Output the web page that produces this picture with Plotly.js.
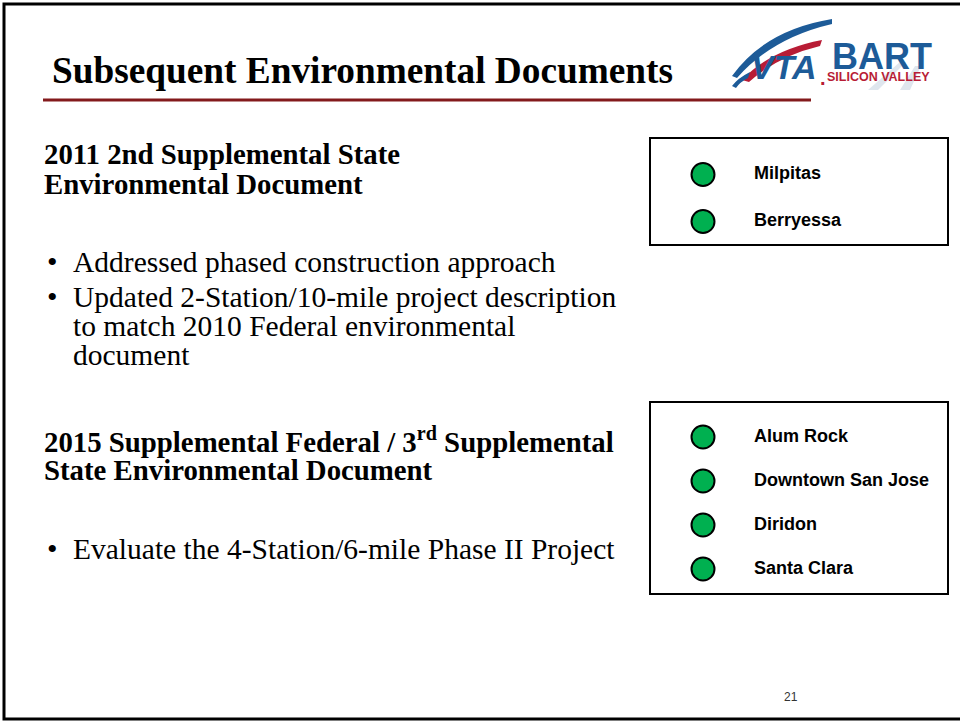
<!DOCTYPE html>
<html>
<head>
<meta charset="utf-8">
<script src="https://cdn.plot.ly/plotly-3.0.1.min.js"></script>
<style>
  html, body { margin: 0; padding: 0; background: #fff; }
  #slide { width: 960px; height: 721px; }
</style>
</head>
<body>
<div id="slide"></div>
<script>
const titleText = "Subsequent Environmental Documents";
const heading1 = ["2011 2nd Supplemental State", "Environmental Document"];
const bullets1 = [
  ["Addressed phased construction approach"],
  ["Updated 2-Station/10-mile project description", "to match 2010 Federal environmental", "document"],
];
const heading2 = ["2015 Supplemental Federal / 3<sup>rd</sup> Supplemental", "State Environmental Document"];
const bullets2 = [["Evaluate the 4-Station/6-mile Phase II Project"]];
const phase1Stations = ["Milpitas", "Berryessa"];
const phase2Stations = ["Alum Rock", "Downtown San Jose", "Diridon", "Santa Clara"];
const pageNumber = "21";

(() => {
  const W = 960, H = 721;
  const serif = "Liberation Serif, Times New Roman, serif";
  const sans = "Liberation Sans, Arial, sans-serif";
  const green = "#00B050";
  const blue = "#1d5b98";
  const red = "#b81c35";

  const ann = [];
  const txt = (x, y, text, size, opts) => {
    ann.push(Object.assign({
      x: x, y: y, xref: "x", yref: "y", text: text, showarrow: false,
      xanchor: "left", yanchor: "middle",
      font: { family: serif, size: size, color: "#000" },
    }, opts || {}));
  };

  // title
  txt(50, 70, "<b>" + titleText + "</b>", 37.3);

  // left column text
  const addHeading = (lines, y0) => {
    lines.forEach((l, i) => txt(42, y0 + i * 30, "<b>" + l + "</b>", 28.8));
  };
  const addBullets = (items, y0, gapLine, gapItem) => {
    let y = y0;
    items.forEach((lines) => {
      txt(45, y - 1, "•", 30);
      lines.forEach((l, j) => {
        txt(71, y, l, 29.5);
        y += j < lines.length - 1 ? gapLine : 0;
      });
      y += gapItem;
    });
  };
  addHeading(heading1, 154);
  addBullets(bullets1, 262, 29, 35);
  addHeading(heading2, 440);
  addBullets(bullets2, 549, 29, 35);

  // page number
  txt(791, 697, pageNumber, 12, { xanchor: "center", font: { family: sans, size: 12, color: "#333" } });

  // logo
  txt(749, 67, "<b><i>VTA</i></b>", 34, { font: { family: sans, size: 34, color: blue } });
  txt(818, 78, "<b>.</b>", 20, { font: { family: sans, size: 20, color: red } });
  txt(830, 56, "<b>BART</b>", 36, { font: { family: sans, size: 36, color: blue } });
  txt(825, 77, "<b>SILICON VALLEY</b>", 12.5, { font: { family: sans, size: 12.5, color: red } });

  const shapes = [
    // slide frame
    { type: "path", xref: "x", yref: "y", path: "M 975,4 L 4,4 L 4,719 L 975,719",
      line: { color: "#000", width: 3 } },
    // title rule
    { type: "line", xref: "x", yref: "y", x0: 43, x1: 811, y0: 100, y1: 100,
      line: { color: "#831a1c", width: 3 } },
    // station boxes
    { type: "rect", xref: "x", yref: "y", x0: 650, x1: 948, y0: 138, y1: 245,
      line: { color: "#000", width: 2 } },
    { type: "rect", xref: "x", yref: "y", x0: 650, x1: 948, y0: 402, y1: 594,
      line: { color: "#000", width: 2 } },
    // logo swooshes and track
    { type: "path", xref: "x", yref: "y", layer: "below", line: { width: 0 }, fillcolor: "#dfe6ee",
      path: "M 868,90 L 900,62 L 906,62 L 878,90 Z" },
    { type: "path", xref: "x", yref: "y", layer: "below", line: { width: 0 }, fillcolor: "#dfe6ee",
      path: "M 900,90 L 915,66 L 921,66 L 910,90 Z" },
    { type: "path", xref: "x", yref: "y", line: { width: 0 }, fillcolor: blue,
      path: "M 732,76 Q 765,30 832,19 L 832,24 Q 772,38 737,78 Z" },
    { type: "path", xref: "x", yref: "y", line: { width: 0 }, fillcolor: red,
      path: "M 742,80 Q 770,50 822,40 L 820,46 Q 778,56 749,82 Z" },
    { type: "path", xref: "x", yref: "y", line: { width: 0 }, fillcolor: blue,
      path: "M 732,86 Q 738,78 750,72 L 748,78 Q 740,82 736,88 Z" },
  ];

  const stationTraces = (stations, xa, ya) => [
    {
      type: "scatter", mode: "markers", xaxis: xa, yaxis: ya,
      x: stations.map(() => 703), y: stations,
      marker: { size: 23, color: green, line: { color: "#000", width: 2 } },
      hoverinfo: "skip",
    },
    {
      type: "scatter", mode: "text", xaxis: xa, yaxis: ya,
      x: stations.map(() => 754), y: stations,
      text: stations, textposition: "middle right",
      textfont: { family: sans, size: 18, color: "#000", weight: "bold" },
      hoverinfo: "skip",
    },
  ];

  const pxDomain = (top, bottom) => [1 - bottom / H, 1 - top / H];
  const hidden = { visible: false, fixedrange: true };

  const layout = {
    width: W, height: H,
    margin: { l: 0, r: 0, t: 0, b: 0 },
    paper_bgcolor: "#fff", plot_bgcolor: "rgba(0,0,0,0)",
    showlegend: false,
    xaxis: Object.assign({ range: [0, W], domain: [0, 1] }, hidden),
    yaxis: Object.assign({ range: [H, 0], domain: [0, 1] }, hidden),
    xaxis2: Object.assign({ range: [650, 948], domain: [650 / W, 948 / W], anchor: "y2" }, hidden),
    yaxis2: Object.assign({ type: "category", range: [1.5, -0.5], domain: pxDomain(151, 245), anchor: "x2" }, hidden),
    xaxis3: Object.assign({ range: [650, 948], domain: [650 / W, 948 / W], anchor: "y3" }, hidden),
    yaxis3: Object.assign({ type: "category", range: [3.5, -0.5], domain: pxDomain(415, 591), anchor: "x3" }, hidden),
    annotations: ann,
    shapes: shapes,
  };

  const data = [].concat(
    stationTraces(phase1Stations, "x2", "y2"),
    stationTraces(phase2Stations, "x3", "y3")
  );

  Plotly.newPlot("slide", data, layout, { staticPlot: true, displayModeBar: false });
})();
</script>
</body>
</html>
